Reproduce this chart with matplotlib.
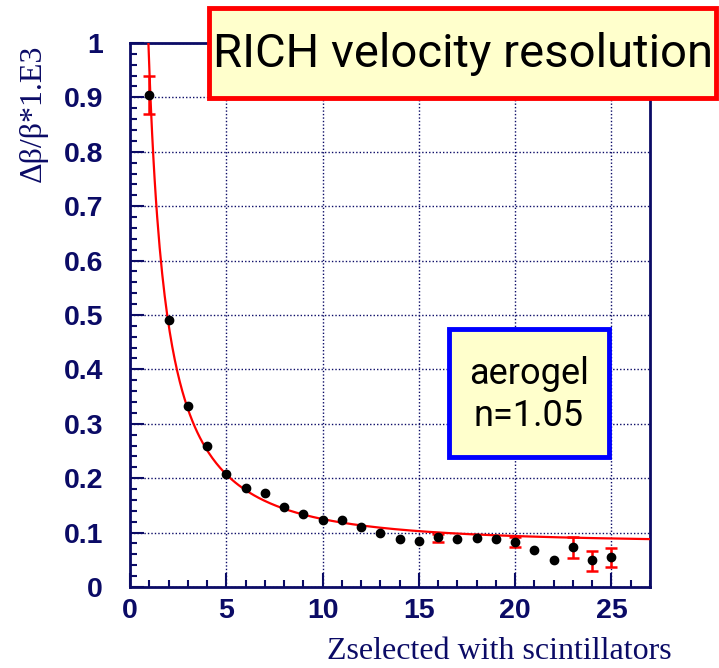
import numpy as np
import matplotlib.pyplot as plt
from matplotlib.patches import Rectangle
from matplotlib.ticker import MultipleLocator

# 測定点 (Z, Δβ/β ×1E3)
z = [1, 2, 3, 4, 5, 6, 7, 8, 9, 10, 11, 12, 13,
     14, 15, 16, 17, 18, 19, 20, 21, 22, 23, 24, 25]
res = [0.905, 0.490, 0.332, 0.259, 0.207, 0.182, 0.172, 0.147, 0.134, 0.124,
       0.124, 0.111, 0.099, 0.088, 0.084, 0.091, 0.088, 0.090, 0.089, 0.083,
       0.068, 0.050, 0.074, 0.050, 0.056]
# 誤差棒 (下側, 上側)
err_lo = [0.035, 0, 0, 0, 0, 0, 0, 0, 0, 0, 0, 0, 0,
          0, 0, 0.008, 0, 0, 0, 0.009, 0, 0, 0.021, 0.020, 0.019]
err_hi = [0.035, 0, 0, 0, 0, 0, 0, 0, 0, 0, 0, 0, 0,
          0, 0, 0.007, 0, 0, 0, 0.009, 0, 0, 0.018, 0.017, 0.015]

# フィット関数 sqrt((a/Z)^2 + c^2) のパラメータ
fit_a = 0.953
fit_c = 0.0806

navy = '#0b0b66'
narrow = ['Roboto', 'DejaVu Sans']

fig = plt.figure(figsize=(7.19, 6.68), dpi=100)
ax = fig.add_axes([0.1808, 0.1213, 0.7232, 0.8144])

zf = np.linspace(fit_a, 27, 400)
ax.plot(zf, np.sqrt((fit_a / zf) ** 2 + fit_c ** 2), color='red', lw=1.6, zorder=3)

# 誤差棒
zz = [zi for zi, lo in zip(z, err_lo) if lo > 0]
rr = [ri for ri, lo in zip(res, err_lo) if lo > 0]
lo = [l for l in err_lo if l > 0]
hi = [h for h, l in zip(err_hi, err_lo) if l > 0]
ax.errorbar(zz, rr, yerr=[lo, hi], fmt='none', ecolor='red', elinewidth=1.8,
            capsize=4, capthick=1.8, zorder=4)
ax.plot(z, res, 'o', color='black', ms=6, zorder=5)

ax.set_xlim(0, 27)
ax.set_ylim(0, 1)
ax.xaxis.set_major_locator(MultipleLocator(5))
ax.xaxis.set_minor_locator(MultipleLocator(1))
ax.yaxis.set_minor_locator(MultipleLocator(0.02))
ax.set_yticks(np.arange(0, 1.01, 0.1))
ax.set_yticklabels(['0', '0.1', '0.2', '0.3', '0.4', '0.5', '0.6', '0.7', '0.8', '0.9', '1'])

ax.grid(True, which='major', color=navy, linestyle=(0, (1, 1.5)), lw=1.0)
ax.tick_params(which='both', direction='in', colors=navy, width=1.5,
               top=False, right=False)
ax.tick_params(which='major', length=10)
ax.tick_params(which='minor', length=5)
ax.tick_params(axis='y', which='major', pad=19.5)
ax.tick_params(axis='x', which='major', pad=8)
for lab in ax.get_xticklabels() + ax.get_yticklabels():
    lab.set_fontfamily('Liberation Sans')
    lab.set_fontweight('bold')
    lab.set_fontsize(20.5)
    lab.set_color(navy)
for sp in ax.spines.values():
    sp.set_color(navy)
    sp.set_linewidth(2)

fig.text(33 / 719, 1 - 45 / 668, 'Δβ/β*1.E3', rotation=90, ha='center', va='top',
         fontsize=23, color=navy, family='Liberation Serif')
fig.text(672 / 719, 1 - 659 / 668, 'Zselected with scintillators', ha='right', va='baseline',
         fontsize=23, color=navy, family='Liberation Serif')

# タイトル枠
fig.add_artist(Rectangle((209 / 719, 1 - 98 / 668), 507 / 719, 90 / 668,
                         transform=fig.transFigure, facecolor='#ffffcc',
                         edgecolor='red', lw=3.5, zorder=10))
fig.text(463 / 719, 1 - 54 / 668, 'RICH velocity resolution', ha='center', va='center',
         fontsize=34, family=narrow, zorder=11)

# aerogel 枠
fig.add_artist(Rectangle((449 / 719, 1 - 457 / 668), 160 / 719, 128 / 668,
                         transform=fig.transFigure, facecolor='#ffffcc',
                         edgecolor='blue', lw=3.5, zorder=10))
fig.text(529 / 719, 1 - 395 / 668, 'aerogel\nn=1.05', ha='center', va='center',
         fontsize=26, linespacing=1.2, family=narrow, zorder=11)

fig.savefig('out.png', dpi=100)
